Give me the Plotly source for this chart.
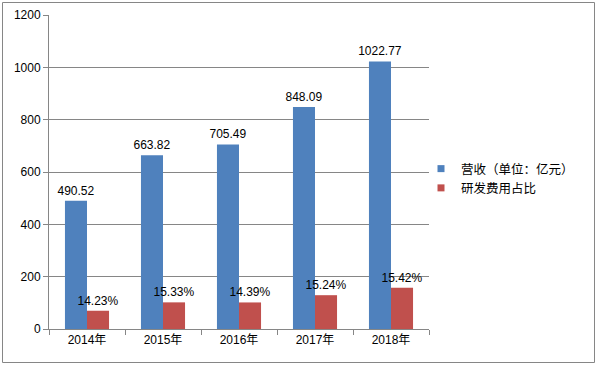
import plotly.graph_objects as go

years = ["2014年", "2015年", "2016年", "2017年", "2018年"]
revenue = [490.52, 663.82, 705.49, 848.09, 1022.77]
rd_value = [69.8, 101.8, 101.5, 129.2, 157.7]
rd_ratio_labels = ["14.23%", "15.33%", "14.39%", "15.24%", "15.42%"]
y_ticks = [0, 200, 400, 600, 800, 1000, 1200]
series_names = ["营收（单位：亿元）", "研发费用占比"]
colors = ["#4F81BD", "#C0504D"]

FONT = "Liberation Sans, Arial, Noto Sans CJK SC"
fig = go.Figure()
fig.add_trace(go.Bar(
    x=years, y=revenue, name=series_names[0], showlegend=False,
    marker=dict(color=colors[0], line=dict(width=0)),
    text=[f"{v:.2f}" for v in revenue], textposition="outside",
    constraintext="none",
    textfont=dict(size=12, color="#000000", family=FONT),
    cliponaxis=False,
))
fig.add_trace(go.Bar(
    x=years, y=rd_value, name=series_names[1], showlegend=False,
    marker=dict(color=colors[1], line=dict(width=0)),
    text=rd_ratio_labels, textposition="outside",
    constraintext="none",
    textfont=dict(size=12, color="#000000", family=FONT),
    cliponaxis=False,
))
# legend-only entries with small square markers
for name, c in zip(series_names, colors):
    fig.add_trace(go.Scatter(
        x=[None], y=[None], mode="markers", name=name,
        marker=dict(symbol="square", size=7, color=c),
        showlegend=True, hoverinfo="skip",
    ))

L, R, T, B = 49, 168, 15, 37
W, H = 597, 366
pw, ph = W - L - R, H - T - B

def px(x):
    return (x - L) / pw

def py(y):
    return (H - B - y) / ph

fig.update_layout(
    width=W, height=H,
    margin=dict(l=L, r=R, t=T, b=B, autoexpand=False),
    paper_bgcolor="white", plot_bgcolor="white",
    barmode="group", bargap=0.42, bargroupgap=0,
    font=dict(family=FONT, size=12, color="#000000"),
    showlegend=True,
    legend=dict(x=px(421), y=py(154), xanchor="left", yanchor="top",
                font=dict(size=12.5, family="Noto Sans CJK SC"),
                itemwidth=30, tracegroupgap=4, bgcolor="rgba(0,0,0,0)"),
    xaxis=dict(type="category", showline=True, linecolor="#868686", linewidth=1,
               ticks="outside", tickson="boundaries", ticklen=5, tickcolor="#868686",
               tickfont=dict(size=12, family=FONT), showgrid=False),
    yaxis=dict(range=[0, 1200], tickvals=y_ticks, showline=True, linecolor="#868686",
               linewidth=1, ticks="outside", ticklen=5, tickcolor="#868686",
               showgrid=True, gridcolor="#868686", gridwidth=1,
               tickfont=dict(size=12, family=FONT), zeroline=False),
    shapes=[dict(type="rect", xref="paper", yref="paper",
                 x0=px(2.5), x1=px(594.5), y0=py(362.5), y1=py(2.5),
                 line=dict(color="#868686", width=1))],
)
fig.write_html(
    "out.html",
    config={"displayModeBar": False},
    post_script="document.body.style.margin='0';document.body.style.padding='0';",
)
